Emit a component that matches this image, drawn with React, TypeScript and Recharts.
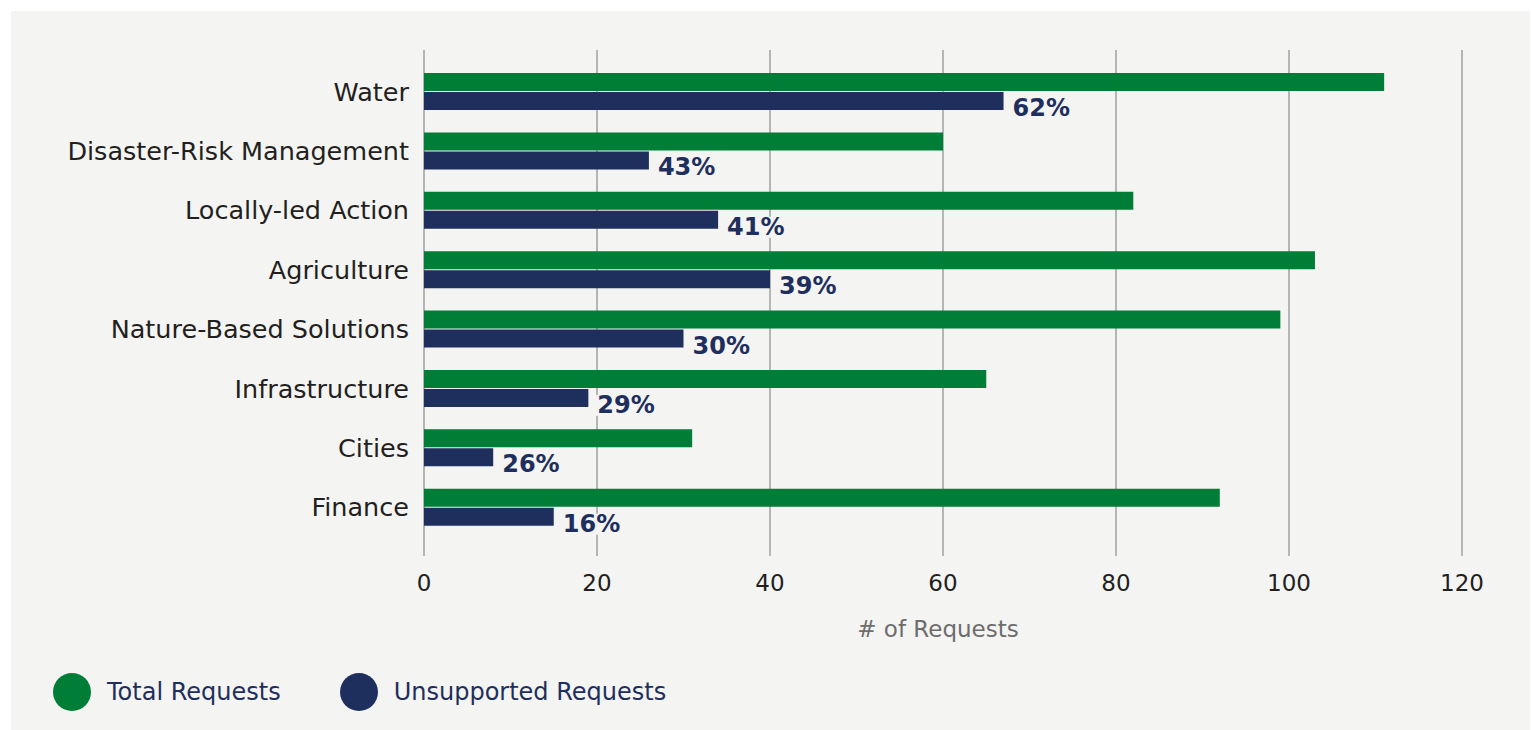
import React from 'react';
import {
  BarChart,
  Bar,
  XAxis,
  YAxis,
  CartesianGrid,
  LabelList,
} from 'recharts';

// 分野ごとのリクエスト数
const categories = [
  'Water',
  'Disaster-Risk Management',
  'Locally-led Action',
  'Agriculture',
  'Nature-Based Solutions',
  'Infrastructure',
  'Cities',
  'Finance',
];
const totalRequests = [111, 60, 82, 103, 99, 65, 31, 92];
const unsupportedRequests = [67, 26, 34, 40, 30, 19, 8, 15];
const unsupportedShare = ['62%', '43%', '41%', '39%', '30%', '29%', '26%', '16%'];
const xTicks = [0, 20, 40, 60, 80, 100, 120];

const GREEN = '#007d36';
const NAVY = '#1f2f5d';
const BG = '#f4f4f2';
const FONT = '"DejaVu Sans", sans-serif';

const data = categories.map((name, i) => ({
  name,
  total: totalRequests[i],
  unsupported: unsupportedRequests[i],
  pct: unsupportedShare[i],
}));

// グリッド線は描画領域より少し上下に伸ばす
function GridLine(props: any) {
  const { x1, x2, y1, y2 } = props;
  return (
    <line
      x1={x1}
      x2={x2}
      y1={y1 - 12}
      y2={y2 + 19}
      stroke="#a0a0a0"
      strokeWidth={1.5}
    />
  );
}

function PctLabel(props: any) {
  const { x, y, width, height, value } = props;
  const tx = x + width + 9;
  const ty = y + height / 2 + 7;
  return (
    <g>
      <rect x={tx - 3} y={ty - 10} width={64} height={21} fill={BG} />
      <text
        x={tx}
        y={ty}
        fill={NAVY}
        fontFamily={FONT}
        fontSize={24}
        fontWeight={700}
        dominantBaseline="central"
      >
        {value}
      </text>
    </g>
  );
}

function ChartLegend() {
  const items = [
    { label: 'Total Requests', color: GREEN },
    { label: 'Unsupported Requests', color: NAVY },
  ];
  return (
    <div
      style={{
        position: 'absolute',
        left: 42,
        top: 662,
        display: 'flex',
        alignItems: 'center',
        fontFamily: FONT,
      }}
    >
      {items.map((it) => (
        <div key={it.label} style={{ display: 'flex', alignItems: 'center', marginRight: 59 }}>
          <span
            style={{
              width: 38,
              height: 38,
              borderRadius: '50%',
              background: it.color,
              display: 'inline-block',
              marginRight: 16,
            }}
          />
          <span style={{ color: NAVY, fontSize: 24 }}>{it.label}</span>
        </div>
      ))}
    </div>
  );
}

export default function App() {
  return (
    <div
      style={{
        position: 'absolute',
        left: 11,
        top: 11,
        width: 1519,
        height: 719,
        background: BG,
      }}
    >
      <BarChart
        width={1519}
        height={719}
        data={data}
        layout="vertical"
        margin={{ top: 51, right: 68, bottom: 0, left: 0 }}
        barSize={18}
        barGap={1}
      >
        <CartesianGrid horizontal={false} vertical={GridLine} />
        <XAxis
          type="number"
          domain={[0, 120]}
          ticks={xTicks}
          axisLine={false}
          tickLine={false}
          tickMargin={32}
          height={193}
          tick={{ fill: '#231f20', fontSize: 23, fontFamily: FONT }}
          label={{
            value: '# of Requests',
            position: 'insideTop',
            offset: 84,
            dx: -5,
            fill: '#6d6d6d',
            fontSize: 23,
            fontFamily: FONT,
          }}
        />
        <YAxis
          type="category"
          dataKey="name"
          width={413}
          axisLine={false}
          tickLine={false}
          tickMargin={9}
          tick={{ fill: '#231f20', fontSize: 25.5, fontFamily: FONT }}
        />
        <Bar dataKey="total" fill={GREEN} isAnimationActive={false} />
        <Bar dataKey="unsupported" fill={NAVY} isAnimationActive={false}>
          <LabelList dataKey="pct" content={PctLabel} />
        </Bar>
      </BarChart>
      <ChartLegend />
    </div>
  );
}
